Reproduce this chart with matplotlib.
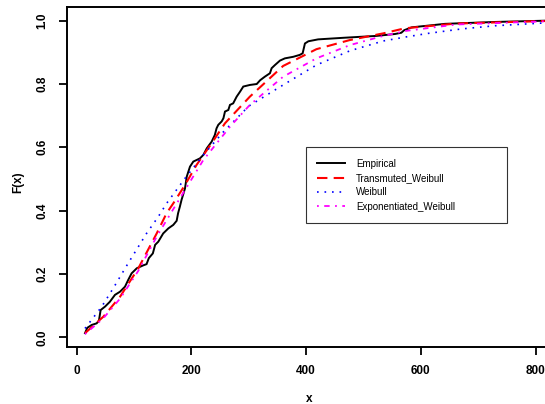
import matplotlib
matplotlib.use("Agg")
import matplotlib.pyplot as plt

plt.rcParams['font.family'] = ['Liberation Sans', 'DejaVu Sans']

# Empirical CDF
emp_x = [14.8, 18.8, 26.5, 35, 39, 42, 49.7, 58, 67, 75.8, 84.5, 90, 96, 105, 116, 122,
         126, 133, 137, 142.5, 151, 160, 168.6, 174.5, 177, 180, 183, 189, 192, 197.7,
         203.5, 215, 221, 227, 235.5, 241, 244, 247, 253, 256, 258.7, 264.5, 267.4, 273,
         279, 285, 290.6, 302, 314, 320, 328, 337, 340, 345.8, 354.5, 363, 377.7, 389,
         394, 398, 404, 421, 465, 523, 555, 566, 571, 584, 642, 729, 816]
emp_F = [0.013, 0.030, 0.039, 0.044, 0.052, 0.086, 0.097, 0.112, 0.134, 0.144, 0.160,
         0.181, 0.202, 0.218, 0.227, 0.231, 0.250, 0.265, 0.292, 0.302, 0.328, 0.344,
         0.355, 0.368, 0.392, 0.412, 0.434, 0.470, 0.507, 0.539, 0.555, 0.565, 0.576,
         0.597, 0.618, 0.639, 0.660, 0.671, 0.682, 0.692, 0.713, 0.718, 0.734, 0.739,
         0.760, 0.776, 0.792, 0.797, 0.800, 0.812, 0.823, 0.834, 0.850, 0.860, 0.874,
         0.881, 0.886, 0.892, 0.897, 0.928, 0.935, 0.941, 0.946, 0.952, 0.958, 0.962,
         0.970, 0.979, 0.990, 0.996, 1.0]

# Transmuted Weibull
tw_x = [14.8, 46.7, 75.8, 107.7, 139.7, 157, 168.6, 189, 209, 235.5, 258.7, 302, 360,
        418, 476.5, 534.6, 572, 662, 816]
tw_F = [0.013, 0.065, 0.128, 0.218, 0.328, 0.392, 0.423, 0.481, 0.544, 0.613, 0.676,
        0.760, 0.857, 0.910, 0.939, 0.960, 0.976, 0.991, 0.999]

# Weibull
w_x = [14.8, 44, 64, 90, 122, 142.5, 157, 189, 221, 256, 300, 360, 418, 476.5, 534.6,
       575, 613, 671, 729, 816]
w_F = [0.028, 0.097, 0.155, 0.234, 0.328, 0.381, 0.423, 0.502, 0.576, 0.649, 0.730,
       0.797, 0.860, 0.905, 0.936, 0.949, 0.960, 0.974, 0.984, 0.993]

# Exponentiated Weibull
ew_x = [14.8, 46.7, 75.8, 107.7, 139.7, 166, 197.7, 221, 267.4, 302, 360, 418, 476.5,
        534.6, 575, 662, 816]
ew_F = [0.010, 0.060, 0.122, 0.210, 0.318, 0.397, 0.491, 0.560, 0.665, 0.734, 0.823,
        0.881, 0.923, 0.952, 0.968, 0.988, 0.998]

x_ticks = [0, 200, 400, 600, 800]
y_ticks = [0.0, 0.2, 0.4, 0.6, 0.8, 1.0]
labels = ["Empirical", "Transmuted_Weibull", "Weibull", "Exponentiated_Weibull"]

W, H = 545, 404
fig = plt.figure(figsize=(W / 100, H / 100), dpi=100)
ax = fig.add_axes([66.7 / W, (H - 346.7) / H, (552 - 66.7) / W, (346.7 - 7.3) / H])

ax.plot(emp_x, emp_F, color='black', lw=1.4, solid_joinstyle='miter', label=labels[0])
ax.plot(tw_x, tw_F, color='#FF0000', lw=1.5, dashes=(5, 3), label=labels[1])
ax.plot(w_x, w_F, color='#0000FF', lw=1.2, dashes=(1, 3.5), label=labels[2])
ax.plot(ew_x, ew_F, color='#FF00FF', lw=1.3, dashes=(1, 3, 3, 3), label=labels[3])

ax.set_xlim(-17.1, 828.5)
ax.set_ylim(-0.0297, 1.0423)
ax.set_xticks(x_ticks)
ax.set_yticks(y_ticks)
ax.set_xticklabels([str(v) for v in x_ticks], fontsize=8.5, fontweight='bold')
ax.set_yticklabels(["%.1f" % v for v in y_ticks], fontsize=8.5, fontweight='bold',
                   rotation=90, va='center')
ax.tick_params(direction='out', length=6, width=1.3, pad=7)
for s in ax.spines.values():
    s.set_linewidth(1.4)

ax.set_xlabel("x", fontsize=8.5, fontweight='bold')
ax.set_ylabel("F(x)", fontsize=8.5, fontweight='bold')
ax.xaxis.set_label_coords((309.4 - 66.7) / (552 - 66.7), (346.7 - 398.5) / (346.7 - 7.3))
ax.xaxis.label.set_va('center')
ax.yaxis.set_label_coords((18 - 66.7) / (552 - 66.7), (346.7 - 181.7) / (346.7 - 7.3))
ax.yaxis.label.set_va('center')

leg = ax.legend(loc='upper left', fontsize=7,
                bbox_to_anchor=(305.7 / W, 1 - 147 / H, (507.3 - 305.7) / W, 0.0),
                bbox_transform=fig.transFigure, mode='expand',
                frameon=True, fancybox=False, handlelength=2.8, handletextpad=1.2,
                borderpad=1.2, labelspacing=0.45, borderaxespad=0)
leg.get_frame().set_edgecolor('black')
leg.get_frame().set_linewidth(0.8)

fig.savefig("out.png", dpi=100)
